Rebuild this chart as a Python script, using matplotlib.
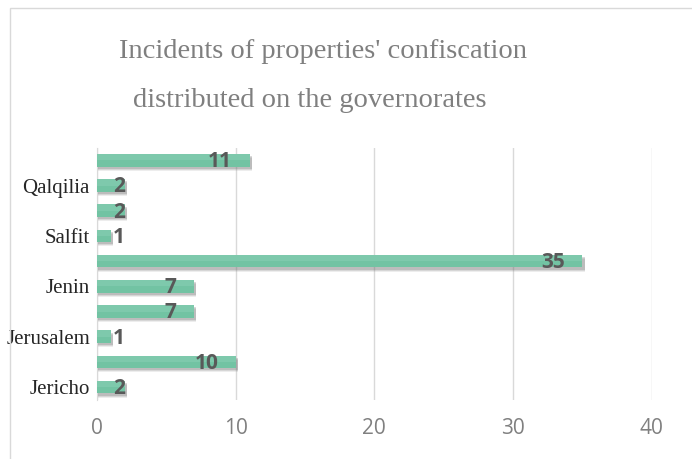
import matplotlib.pyplot as plt
from matplotlib.patches import Rectangle
import numpy as np

# data, bottom to top (unlabelled categories are skipped by the axis)
governorates = ['Jericho', '', 'Jerusalem', '', 'Jenin', '', 'Salfit', '', 'Qalqilia', '']
incidents = [2, 10, 1, 7, 7, 35, 1, 2, 2, 11]
x_ticks = [0, 10, 20, 30, 40]

bar_color = '#72c3a3'
bar_light = '#8ad0b5'
label_color = '#595959'
grid_color = '#d9d9d9'

fig = plt.figure(figsize=(6.92, 4.59), dpi=100)
ax = fig.add_axes([0.140, 0.129, 0.802, 0.549])

y = np.arange(len(incidents))
vals = np.array(incidents)
# soft shadow under the bars
for off, a in [(0.16, 0.12), (0.12, 0.18), (0.08, 0.25)]:
    ax.barh(y - off, vals + 0.15, height=0.5,
            color='#6f6f6f', alpha=a, linewidth=0, zorder=2)
ax.barh(y, vals, height=0.5, color=bar_color, linewidth=0, zorder=3)
# lighter upper half for the gradient look
ax.barh(y + 0.125, vals, height=0.25, color=bar_light, alpha=0.5,
        linewidth=0, zorder=3)

for yi, v in zip(y, incidents):
    if v <= 2:
        ax.annotate(str(v), (0, yi), xytext=(11.5, -1), textcoords='offset points',
                    ha='left', va='center', fontsize=15, fontweight='bold',
                    color=label_color, family='Open Sans', zorder=5)
    else:
        ax.annotate(str(v), (v, yi), xytext=(-12.5, -1), textcoords='offset points',
                    ha='right', va='center', fontsize=15, fontweight='bold',
                    color=label_color, family='Open Sans', zorder=5)

ax.set_xlim(0, 40)
ax.set_ylim(-0.5, len(incidents) - 0.5)
ax.set_xticks(x_ticks)
ax.set_xticklabels([str(t) for t in x_ticks], fontsize=15, color='#808080', family='Open Sans')
ax.set_yticks(y)
ax.set_yticklabels(governorates, fontsize=15, color='#262626', family='Liberation Serif')
ax.tick_params(axis='both', length=0)
ax.tick_params(axis='x', pad=13)
ax.tick_params(axis='y', pad=5)
ax.grid(axis='x', color=grid_color, linewidth=1, zorder=0)
ax.set_axisbelow(True)
for s in ['top', 'right', 'bottom']:
    ax.spines[s].set_visible(False)
ax.spines['left'].set_color(grid_color)

# title in two lines
fig.text(0.467, 0.888, "Incidents of properties' confiscation", ha='center', va='center',
         fontsize=20.5, color='#7f7f7f', family='Liberation Serif')
fig.text(0.448, 0.782, 'distributed on the governorates', ha='center', va='center',
         fontsize=20.5, color='#7f7f7f', family='Liberation Serif')

# chart border
fig.patches.append(Rectangle((10 / 692, -0.1), 1.0, 1 - 8 / 459 + 0.1,
                             transform=fig.transFigure, fill=False,
                             edgecolor=grid_color, linewidth=1))

plt.savefig('out.png', dpi=100)
